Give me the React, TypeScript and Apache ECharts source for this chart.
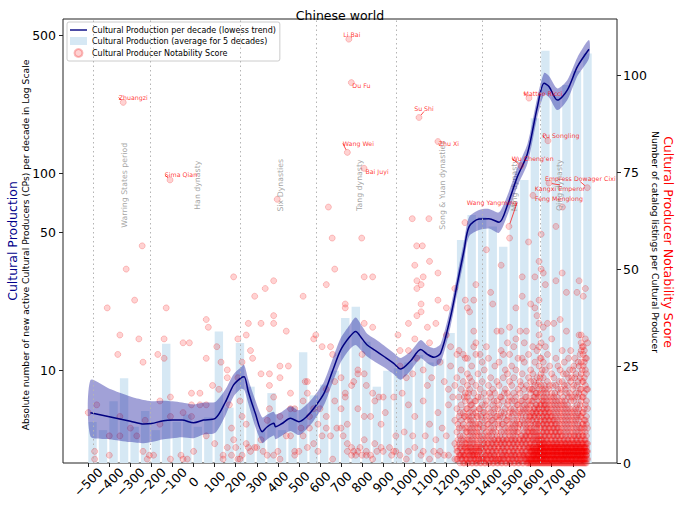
import * as echarts from 'echarts';
import { useEffect, useRef } from 'react';

const LINE_NAME = 'Cultural Production per decade (lowess trend)';
const BAR_NAME = 'Cultural Production (average for 5 decades)';
const SCATTER_NAME = 'Cultural Producer Notability Score';

// x ticks
const X_TICKS = [-500, -400, -300, -200, -100, 0, 100, 200, 300, 400, 500, 600, 700, 800, 900, 1000, 1100, 1200, 1300, 1400, 1500, 1600, 1700, 1800];
const LEFT_TICKS = [10, 50, 100, 500];
const RIGHT_TICKS = [0, 25, 50, 75, 100];

// bars: start year of each 50-year block (bar covers 40 years)
const BAR_STARTS = [-500, -450, -400, -350, -300, -250, -200, -150, -100, -50, 0, 50, 100, 150, 200, 250, 300, 350, 400, 450, 500, 550, 600, 650, 700, 750, 800, 850, 900, 950, 1000, 1050, 1100, 1150, 1200, 1250, 1300, 1350, 1400, 1450, 1500, 1550, 1600, 1650, 1700, 1750, 1800, 1850];
const BAR_VALUES = [5.5, 5.0, 7.0, 9.15, 5.2, 6.25, 5.0, 13.7, 5.5, 6.0, 5.2, 5.8, 15.8, 6.5, 13.8, 8.3, 5.0, 7.7, 5.0, 6.6, 12.4, 7.5, 8.5, 10.0, 18.5, 21.1, 14.0, 8.3, 10.0, 10.3, 11.0, 12.0, 11.0, 11.5, 15.5, 45.9, 61.5, 60, 53.7, 42.5, 72, 92.5, 190, 418, 245, 280, 330, 405];

// lowess trend and its band
const LINE_YEARS = [-490, -400, -300, -237, -200, -143, -100, -55, 0, 47, 103, 150, 190, 225, 240, 260, 293, 326, 350, 381, 389, 420, 460, 500, 540, 571, 619, 660, 698, 740, 769, 800, 824, 860, 904, 950, 983, 1030, 1078, 1110, 1141, 1173, 1220, 1252, 1284, 1308, 1355, 1402, 1450, 1490, 1537, 1585, 1632, 1664, 1687, 1727, 1774, 1822, 1877];
const LINE_VALUES = [6.12, 5.85, 5.55, 5.37, 5.4, 5.58, 5.62, 5.62, 5.45, 5.62, 5.74, 6.9, 8.47, 9.2, 9.33, 7.8, 6.08, 4.91, 5.2, 5.41, 5.2, 5.4, 5.74, 5.52, 5.9, 6.45, 7.67, 10.0, 12.7, 14.8, 15.8, 14.5, 13.5, 12.7, 11.8, 10.9, 10.2, 11.2, 12.8, 12.1, 11.7, 12.3, 18.8, 27.7, 40.8, 53.7, 58.6, 58.9, 56.5, 69, 96, 126, 217, 286, 275, 235, 264, 347, 425];
const BAND_LOW = [4.65, 4.5, 4.35, 4.29, 4.35, 4.5, 4.55, 4.6, 4.55, 4.75, 4.85, 5.9, 7.4, 8.1, 8.0, 6.8, 5.2, 4.3, 4.5, 4.7, 4.5, 4.7, 4.95, 4.72, 5.1, 5.6, 6.7, 8.7, 11.0, 12.8, 13.5, 12.5, 11.8, 11.1, 10.4, 9.6, 9.0, 10.0, 11.55, 10.9, 10.5, 11.0, 16.8, 24.8, 36.5, 48.0, 51.6, 52.5, 50.0, 61.5, 86, 112, 193, 250, 243, 209, 235, 311, 383];
const BAND_HIGH = [8.95, 8.1, 7.4, 7.1, 7.0, 7.05, 7.0, 6.9, 6.75, 6.9, 6.95, 8.0, 9.6, 10.4, 10.7, 9.0, 7.1, 5.8, 6.0, 6.2, 6.0, 6.2, 6.6, 6.3, 6.8, 7.4, 8.8, 11.5, 14.6, 17.0, 18.6, 16.8, 15.4, 14.5, 13.4, 12.3, 11.6, 12.5, 14.3, 13.4, 13.0, 13.7, 21.0, 30.8, 45.5, 60.0, 65.2, 66.0, 63.5, 77.5, 107, 141, 243, 322, 311, 269, 296, 386, 473];

// dynasties
const DYNASTY_STARTS = [-475, -206, 220, 581, 960, 1368, 1644];
const DYNASTY_NAMES = ['Warring States period', 'Han dynasty', 'Six Dynasties', 'Tang dynasty', 'Song & Yuan dynasties', 'Ming dynasty', 'Qing dynasty'];
const DYNASTY_LABEL_YEARS = [-330, 17, 413, 786, 1180, 1522, 1735];

// notable cultural producers
const NOTABLE_NAMES = ['Zhuangzi', 'Sima Qian', 'Li Bai', 'Du Fu', 'Wang Wei', 'Bai Juyi', 'Su Shi', 'Zhu Xi', 'Wang Yangming', "Wu Cheng'en", 'Matteo Ricci', 'Feng Menglong', 'Pu Songling', 'Kangxi Emperor', 'Empress Dowager Cixi'];
const NOTABLE_YEARS = [-334, -112, 737, 749, 730, 809, 1070, 1160, 1497, 1553, 1592, 1611, 1682, 1687, 1869];
const NOTABLE_SCORES = [93.0, 73.0, 109.3, 98.1, 80.1, 76.0, 89.1, 82.9, 61.0, 76.7, 94.1, 69.0, 83.1, 72.2, 71.0];
const NOTABLE_LABEL_SHIFT = [[10, -5], [11, -5], [3, -5], [10, 3], [11, -9], [13, 3], [5, -9], [11, 2], [-17, -24], [12, -7], [14, -5], [26, 3], [13, -5], [11, 5], [-7, -9]];

// other producers: [year, score]
const EARLY_POINTS = [
  [-500, 13], [-470, 3], [-470, 1], [-460, 15], [-410, 40], [-400, 7], [-400, 2],
  [-360, 28], [-350, 33], [-350, 12], [-350, 7], [-320, 50], [-300, 9], [-280, 42],
  [-270, 7], [-260, 32], [-240, 26], [-240, 3], [-230, 11], [-220, 1], [-210, 2],
  [-190, 2], [-170, 28], [-160, 10], [-160, 16], [-140, 32], [-140, 27], [-130, 40],
  [-110, 1], [-110, 12], [-110, 17], [-60, 2], [-50, 1], [-50, 31], [-50, 13],
  [-30, 1], [-20, 31], [-10, 18], [-10, 15], [-10, 12], [0, 3], [30, 18], [30, 15],
  [60, 37], [60, 27], [60, 15], [60, 7], [70, 35], [90, 20], [100, 5], [110, 30],
  [120, 19], [130, 26], [140, 2], [140, 1], [160, 24], [160, 22], [160, 4], [170, 15],
  [180, 9], [180, 2], [190, 48], [190, 6], [200, 4], [210, 32], [210, 22], [210, 1],
  [220, 1], [220, 16], [230, 26], [230, 12], [230, 2], [250, 33], [250, 5], [250, 10],
  [260, 36], [260, 4], [270, 29], [270, 3], [280, 27], [290, 43], [290, 4], [300, 4],
  [320, 36], [320, 23], [320, 6], [330, 3], [340, 45], [350, 2], [350, 11], [360, 23],
  [360, 20], [360, 14], [380, 47], [380, 38], [380, 36], [380, 17], [380, 2], [400, 3],
  [410, 25], [410, 22], [410, 12], [410, 1], [440, 7], [440, 34], [450, 25], [460, 18],
  [460, 7], [460, 14], [480, 14], [480, 3], [480, 2], [500, 3], [510, 9], [520, 43],
  [520, 16], [520, 7], [530, 21], [540, 21], [540, 18], [540, 4], [550, 9], [550, 12],
  [570, 32], [570, 14], [570, 5], [580, 33], [590, 3], [590, 10], [600, 14], [610, 30],
  [610, 7], [630, 46], [630, 19], [630, 9], [630, 12], [650, 30], [650, 7], [660, 28],
  [660, 1], [670, 50], [670, 21], [670, 16], [680, 9], [700, 22], [700, 9], [700, 14],
  [710, 7], [720, 41], [720, 40], [720, 18], [720, 17], [730, 5], [730, 3], [730, 10],
  [750, 20], [750, 4], [750, 2], [760, 21], [760, 3], [770, 2], [780, 24], [780, 23],
  [780, 3], [780, 14], [790, 4], [800, 28], [800, 2], [810, 48], [810, 36], [810, 23],
  [810, 6], [810, 12], [820, 3], [820, 20], [820, 2], [840, 2], [840, 12], [850, 48],
  [850, 35], [850, 18], [850, 1], [860, 16], [860, 5], [870, 3], [880, 17], [890, 4],
  [890, 10], [900, 17], [900, 3], [910, 13], [930, 4], [940, 2], [950, 17], [950, 3],
  [960, 7], [960, 3], [970, 33], [980, 29], [980, 25], [980, 2], [990, 18], [1000, 8],
  [1010, 22], [1010, 1], [1020, 36], [1020, 29], [1020, 15], [1020, 3], [1040, 23],
  [1040, 7], [1050, 51], [1050, 32], [1050, 12], [1050, 4], [1060, 47], [1060, 45],
  [1060, 38], [1060, 27], [1080, 46], [1080, 41], [1080, 39], [1080, 2], [1090, 48],
  [1090, 24], [1090, 16], [1090, 3], [1100, 7], [1110, 35], [1110, 20], [1120, 52],
  [1120, 31], [1120, 10], [1120, 1], [1130, 22], [1140, 3], [1150, 36], [1150, 6],
  [1160, 49], [1160, 42], [1160, 13], [1160, 2], [1170, 26], [1170, 3], [1180, 9],
  [1190, 21], [1190, 2], [1200, 40], [1200, 33], [1200, 7], [1210, 19], [1210, 15],
  [1210, 2], [1220, 30], [1220, 25], [1230, 17], [1240, 45], [1240, 20], [1240, 11],
  [1240, 5], [1240, 1],
];
const HIGH_POINTS = [
  [-244, 56], [397, 68], [640, 66], [658, 58], [798, 58], [1038, 63], [1117, 63],
  [1059, 56], [1086, 56], [1288, 62], [1500, 58], [1751, 66],
];
// later decades: [decade, scores]
const LATE_COLUMNS: [number, number[]][] = [
  [1250, [1, 3, 4, 8, 14, 22, 28]],
  [1260, [2, 5, 9, 12, 17, 29]],
  [1270, [1, 2, 4, 6, 11, 15, 19, 24]],
  [1280, [0, 2, 3, 7, 10, 13, 21, 28]],
  [1290, [1, 2, 4, 5, 9, 12, 16, 18, 27, 42]],
  [1300, [0, 1, 3, 4, 6, 8, 11, 14, 17, 20, 23, 27, 40]],
  [1310, [1, 2, 3, 5, 7, 10, 13, 16, 19, 22, 39]],
  [1320, [0, 2, 4, 6, 9, 12, 15, 21, 25]],
  [1330, [1, 2, 3, 5, 8, 11, 14, 18, 30, 34, 42]],
  [1340, [0, 1, 3, 4, 7, 10, 13, 16, 20, 28, 31, 46]],
  [1350, [1, 2, 4, 6, 9, 12, 17, 23]],
  [1360, [0, 2, 3, 5, 8, 10, 14, 19, 28]],
  [1370, [1, 2, 4, 7, 11, 15, 21, 26]],
  [1380, [0, 1, 3, 5, 6, 9, 13, 18, 24]],
  [1390, [1, 2, 4, 8, 12, 16, 30, 55]],
  [1400, [0, 2, 3, 5, 7, 10, 14, 20, 27]],
  [1410, [1, 2, 4, 6, 9, 13, 17, 22, 44]],
  [1420, [0, 1, 3, 5, 8, 11, 15, 19, 41]],
  [1430, [1, 2, 4, 6, 10, 14, 18, 25]],
  [1440, [0, 2, 3, 5, 7, 12, 16, 21, 34]],
  [1450, [1, 2, 4, 6, 9, 11, 15, 20, 26]],
  [1460, [0, 1, 3, 5, 8, 13, 17, 29, 34, 51]],
  [1470, [1, 2, 4, 6, 10, 12, 16, 22, 28]],
  [1480, [0, 2, 3, 5, 7, 9, 14, 19, 24]],
  [1490, [1, 2, 4, 6, 8, 11, 15, 18, 23, 31]],
  [1500, [0, 1, 3, 5, 7, 10, 13, 17, 21, 28, 35]],
  [1510, [1, 2, 4, 6, 9, 12, 16, 20, 25]],
  [1520, [0, 2, 3, 5, 8, 11, 14, 18, 22, 30]],
  [1530, [1, 2, 4, 6, 7, 10, 13, 17, 24, 32, 40]],
  [1540, [0, 1, 3, 5, 8, 9, 12, 15, 19, 27]],
  [1550, [1, 2, 4, 6, 10, 14, 18, 21, 34]],
  [1560, [0, 2, 3, 5, 7, 11, 13, 16, 23, 27, 43, 48]],
  [1570, [1, 2, 4, 6, 8, 10, 15, 19, 26, 31]],
  [1580, [0, 1, 2, 3, 5, 7, 9, 12, 14, 17, 20, 34]],
  [1590, [0, 1, 2, 4, 6, 8, 11, 13, 16, 22, 28, 57]],
  [1600, [0, 1, 2, 3, 4, 5, 7, 9, 10, 12, 15, 18, 21, 24, 41]],
  [1610, [0, 1, 2, 3, 4, 6, 8, 11, 13, 16, 19, 23, 30]],
  [1620, [0, 1, 2, 3, 5, 6, 8, 10, 12, 14, 17, 20, 26, 40, 48]],
  [1630, [0, 1, 2, 3, 4, 5, 7, 9, 11, 13, 15, 18, 22, 29, 38]],
  [1640, [0, 1, 2, 3, 4, 5, 6, 8, 10, 12, 14, 16, 19, 21, 25, 30, 33, 36, 42, 52]],
  [1650, [0, 1, 2, 3, 4, 5, 6, 7, 9, 11, 13, 15, 17, 20, 23, 27, 31, 50, 59]],
  [1660, [0, 1, 2, 3, 4, 5, 6, 8, 10, 12, 14, 16, 18, 22, 26, 35, 49]],
  [1670, [0, 1, 2, 3, 4, 5, 7, 9, 11, 13, 15, 19, 24, 30, 46]],
  [1680, [0, 1, 2, 3, 4, 5, 6, 8, 10, 12, 14, 17, 21, 28, 36]],
  [1690, [0, 1, 2, 3, 4, 5, 7, 9, 11, 13, 16, 20, 25]],
  [1700, [0, 1, 2, 3, 4, 5, 6, 8, 10, 12, 15, 18, 23, 32]],
  [1710, [0, 1, 2, 3, 4, 5, 7, 9, 11, 14, 17, 22, 36]],
  [1720, [0, 1, 2, 3, 4, 5, 6, 8, 10, 13, 16, 20, 27, 47, 61]],
  [1730, [0, 1, 2, 3, 4, 5, 7, 9, 12, 15, 19, 25]],
  [1740, [0, 1, 2, 3, 4, 5, 6, 8, 11, 14, 18, 24, 37]],
  [1750, [0, 1, 2, 3, 4, 5, 7, 10, 13, 16, 21, 29, 49]],
  [1760, [0, 1, 2, 3, 4, 5, 6, 9, 12, 15, 20, 26]],
  [1770, [0, 1, 2, 3, 4, 5, 8, 11, 14, 18, 23, 34, 44]],
  [1780, [0, 1, 2, 3, 4, 5, 6, 7, 10, 13, 17, 22, 27]],
  [1790, [0, 1, 2, 3, 4, 5, 7, 9, 12, 16, 21, 29]],
  [1800, [0, 1, 2, 3, 4, 5, 6, 8, 11, 14, 19, 24]],
  [1810, [0, 1, 2, 3, 4, 5, 7, 10, 13, 17, 22, 27]],
  [1820, [0, 1, 2, 3, 4, 5, 6, 9, 12, 15, 20, 44]],
  [1830, [0, 1, 2, 3, 4, 5, 7, 8, 11, 14, 18, 25, 33, 47]],
  [1840, [0, 1, 2, 3, 4, 5, 6, 9, 12, 16, 19, 23, 26, 29, 31, 33]],
  [1850, [0, 1, 2, 3, 4, 5, 7, 10, 13, 17, 21, 25, 28, 30, 43]],
  [1860, [0, 1, 2, 3, 4, 5, 6, 8, 11, 15, 20, 24, 27, 32, 45]],
  [1870, [1, 3, 5, 9, 14, 19, 31]],
];
// mid-decade producers (1255 = born in the second half of the 1250s, etc.)
const MID_DECADE_COLUMNS: [number, number[]][] = [
  [1255, [1, 3, 6, 10]],
  [1265, [0, 2, 4, 7, 13]],
  [1275, [1, 3, 5, 9]],
  [1285, [0, 2, 4, 6, 12, 17]],
  [1295, [1, 3, 5, 8, 14]],
  [1305, [0, 2, 4, 6, 9, 12, 18]],
  [1315, [1, 3, 4, 8, 11, 15]],
  [1325, [0, 2, 3, 5, 7, 10, 13]],
  [1335, [1, 2, 4, 6, 9, 16]],
  [1345, [0, 2, 3, 5, 8, 12]],
  [1355, [1, 3, 4, 7, 10, 14]],
  [1365, [0, 1, 4, 6, 12, 17]],
  [1375, [1, 3, 5, 9, 13]],
  [1385, [0, 2, 4, 7, 11, 15]],
  [1395, [1, 3, 5, 6, 10]],
  [1405, [0, 2, 4, 8, 12, 18]],
  [1415, [1, 3, 5, 7, 11]],
  [1425, [0, 2, 4, 6, 9, 13, 16]],
  [1435, [1, 3, 5, 8, 12]],
  [1445, [0, 1, 4, 6, 10, 14]],
  [1455, [1, 3, 5, 7, 12, 17]],
  [1465, [0, 2, 4, 6, 10]],
  [1475, [1, 3, 5, 8, 13, 18]],
  [1485, [0, 2, 4, 6, 11]],
  [1495, [1, 3, 5, 9, 12, 16]],
  [1505, [0, 2, 4, 6, 8, 14]],
  [1515, [1, 3, 5, 7, 10, 13]],
  [1525, [0, 2, 4, 6, 9, 16]],
  [1535, [1, 3, 5, 8, 11, 15]],
  [1545, [0, 2, 4, 6, 10, 13]],
  [1555, [1, 3, 5, 7, 12, 16, 20]],
  [1565, [0, 2, 4, 6, 9, 14]],
  [1575, [1, 3, 5, 7, 11, 13, 17]],
  [1585, [0, 1, 2, 4, 6, 8, 10, 15]],
  [1595, [0, 1, 3, 4, 5, 7, 9, 12, 14, 19]],
  [1605, [0, 1, 1, 2, 3, 3, 4, 6, 8, 11, 13, 16, 19]],
  [1615, [0, 1, 2, 2, 3, 4, 5, 7, 9, 12, 14, 17, 21]],
  [1625, [0, 1, 1, 2, 3, 4, 4, 6, 8, 10, 13, 15, 18]],
  [1635, [0, 1, 2, 2, 3, 3, 4, 6, 7, 10, 12, 14, 17, 20]],
  [1645, [0, 1, 1, 2, 3, 3, 4, 4, 5, 7, 9, 11, 13, 15, 18, 22, 27]],
  [1655, [0, 1, 1, 2, 2, 3, 4, 4, 5, 6, 8, 10, 12, 14, 16, 19, 24]],
  [1665, [0, 1, 2, 2, 3, 3, 4, 5, 7, 9, 11, 13, 15, 17, 20]],
  [1675, [0, 1, 1, 2, 3, 4, 4, 6, 8, 10, 12, 14, 16, 18]],
  [1685, [0, 1, 2, 2, 3, 3, 4, 5, 7, 9, 11, 13, 15, 19]],
  [1695, [0, 1, 1, 2, 3, 4, 4, 6, 8, 10, 12, 14, 17]],
  [1705, [0, 1, 2, 2, 3, 3, 4, 5, 7, 9, 11, 13, 16, 20]],
  [1715, [0, 1, 1, 2, 3, 4, 4, 6, 8, 10, 12, 15, 18]],
  [1725, [0, 1, 2, 2, 3, 3, 4, 5, 7, 9, 11, 14, 17]],
  [1735, [0, 1, 1, 2, 3, 4, 4, 6, 8, 10, 13, 16, 21]],
  [1745, [0, 1, 2, 2, 3, 3, 4, 5, 7, 9, 12, 15, 19]],
  [1755, [0, 1, 1, 2, 2, 3, 4, 4, 6, 8, 11, 14, 17, 23]],
  [1765, [0, 1, 2, 2, 3, 3, 4, 5, 7, 10, 13, 16, 19]],
  [1775, [0, 1, 1, 2, 3, 3, 4, 4, 6, 9, 12, 15, 20]],
  [1785, [0, 1, 2, 2, 3, 3, 4, 5, 8, 11, 14, 18, 24]],
  [1795, [0, 1, 1, 2, 2, 3, 4, 4, 6, 10, 13, 17, 22]],
  [1805, [0, 1, 2, 2, 3, 3, 4, 5, 7, 9, 12, 16, 20, 25]],
  [1815, [0, 1, 1, 2, 3, 3, 4, 4, 6, 8, 11, 14, 18, 23]],
  [1825, [0, 1, 2, 2, 3, 3, 4, 5, 7, 10, 13, 17, 21, 26]],
  [1835, [0, 1, 1, 2, 2, 3, 4, 4, 6, 9, 12, 15, 19, 22, 28]],
  [1845, [0, 1, 2, 2, 3, 3, 4, 5, 7, 8, 10, 13, 17, 21, 24, 30]],
  [1855, [0, 1, 1, 2, 3, 3, 4, 4, 6, 9, 11, 14, 18, 22, 26, 29]],
  [1865, [0, 1, 2, 2, 3, 3, 4, 5, 7, 10, 12, 16, 19, 23, 27]],
];

const FONT = 'DejaVu Sans';
const log = (v: number) => Math.log10(v);

export default function App() {
  const container = useRef<HTMLDivElement | null>(null);

  useEffect(() => {
    if (!container.current) return;
    const chart = echarts.init(container.current, undefined, { renderer: 'svg' });

    const pointStyle = {
      color: 'rgba(255,0,0,0.22)',
      borderColor: 'rgba(235,0,0,0.32)',
      borderWidth: 0.8,
    };
    const columnsToPoints = (cols: [number, number[]][]) =>
      cols.flatMap(([year, scores]) => scores.map((s) => [year, s]));
    const scatterData = [
      ...EARLY_POINTS,
      ...HIGH_POINTS,
      ...columnsToPoints(LATE_COLUMNS),
      ...columnsToPoints(MID_DECADE_COLUMNS),
    ];
    const smooth = 0.3;
    const centered = { align: 'center', verticalAlign: 'middle', textAlign: 'center', textVerticalAlign: 'middle' };

    chart.setOption({
      animation: false,
      textStyle: { fontFamily: FONT },
      title: {
        text: 'Chinese world',
        left: 'center',
        top: 4,
        textStyle: { fontSize: 12.5, fontWeight: 'normal', color: '#000', fontFamily: FONT },
      },
      legend: {
        orient: 'vertical',
        left: 67,
        top: 22,
        padding: [4, 4, 3, 3],
        itemGap: 3,
        itemWidth: 17,
        itemHeight: 8,
        backgroundColor: 'rgba(255,255,255,0.85)',
        borderColor: '#cccccc',
        borderWidth: 1,
        borderRadius: 2,
        textStyle: { fontSize: 8, color: '#000', fontFamily: FONT },
        data: [
          { name: LINE_NAME, icon: 'path://M0,0H17V1.4H0Z' },
          { name: BAR_NAME, icon: 'rect' },
          { name: SCATTER_NAME, icon: 'circle' },
        ],
      },
      grid: { left: 63, right: 63, top: 19, bottom: 45, show: true, borderColor: '#222', borderWidth: 1 },
      xAxis: {
        type: 'value',
        min: -620,
        max: 2010,
        axisLine: { show: false, onZero: false },
        splitLine: { show: false },
        axisTick: { show: true, length: 4, lineStyle: { color: '#222' }, customValues: X_TICKS },
        axisLabel: {
          customValues: X_TICKS,
          rotate: 45,
          align: 'center',
          verticalAlign: 'middle',
          margin: 19,
          fontSize: 12.5,
          color: '#000',
          fontFamily: FONT,
          formatter: (v: number) => (v < 0 ? '\u2212' + Math.abs(v) : String(v)),
        },
      },
      yAxis: [
        {
          type: 'value',
          min: 0.5324,
          max: 2.7816,
          axisLine: { show: false, onZero: false },
          splitLine: { show: false },
          axisTick: { show: true, length: 4, lineStyle: { color: '#222' }, customValues: LEFT_TICKS.map(log) },
          axisLabel: {
            customValues: LEFT_TICKS.map(log),
            margin: 7,
            fontSize: 12.5,
            color: '#000',
            fontFamily: FONT,
            formatter: (v: number) => String(Math.round(Math.pow(10, v))),
          },
        },
        {
          type: 'value',
          position: 'right',
          min: 0,
          max: 114.5,
          axisLine: { show: false, onZero: false },
          splitLine: { show: false },
          axisTick: { show: true, length: 4, lineStyle: { color: '#222' }, customValues: RIGHT_TICKS },
          axisLabel: { customValues: RIGHT_TICKS, margin: 6, fontSize: 12.5, color: '#000', fontFamily: FONT },
        },
      ],
      graphic: [
        {
          type: 'text', x: 12, y: 241, rotation: Math.PI / 2,
          style: { text: 'Cultural Production', fill: '#00008b', font: `12.5px "${FONT}"`, ...centered },
        },
        {
          type: 'text', x: 25, y: 245, rotation: Math.PI / 2,
          style: { text: 'Absolute number of new active Cultural Producers (CPs) per decade in Log Scale', fill: '#000', font: `9.2px "${FONT}"`, ...centered },
        },
        {
          type: 'text', x: 668, y: 242, rotation: -Math.PI / 2,
          style: { text: 'Cultural Producer Notability Score', fill: '#ff0000', font: `12.5px "${FONT}"`, ...centered },
        },
        {
          type: 'text', x: 655, y: 242, rotation: -Math.PI / 2,
          style: { text: 'Number of catalog listings per Cultural Producer', fill: '#000', font: `9.2px "${FONT}"`, ...centered },
        },
      ],
      series: [
        {
          type: 'bar',
          name: BAR_NAME,
          yAxisIndex: 0,
          barWidth: 8.4,
          itemStyle: { color: '#d6e8f4' },
          data: BAR_STARTS.map((s, i) => [s + 20, log(BAR_VALUES[i])]),
          z: 1,
        },
        {
          type: 'scatter',
          name: SCATTER_NAME,
          yAxisIndex: 1,
          symbolSize: 6,
          itemStyle: pointStyle,
          data: scatterData,
          z: 2,
        },
        {
          type: 'scatter',
          name: 'dynasties',
          yAxisIndex: 0,
          symbolSize: 1,
          silent: true,
          itemStyle: { color: 'rgba(0,0,0,0)' },
          data: DYNASTY_NAMES.map((n, i) => ({ name: n, value: [DYNASTY_LABEL_YEARS[i], log(87)] })),
          label: {
            show: true,
            formatter: '{b}',
            position: 'inside',
            rotate: 90,
            color: '#8c8c8c',
            fontSize: 7.8,
            fontFamily: FONT,
          },
          markLine: {
            silent: true,
            symbol: 'none',
            label: { show: false },
            lineStyle: { color: '#b4b4b4', type: [1.5, 3], width: 1 },
            data: DYNASTY_STARTS.map((x) => ({ xAxis: x })),
          },
          z: 2,
        },
        {
          // confidence band of the lowess trend
          type: 'custom',
          name: 'band',
          yAxisIndex: 0,
          silent: true,
          data: LINE_YEARS.map((y, i) => [y, log(BAND_LOW[i]), log(BAND_HIGH[i])]),
          encode: { x: 0, y: [1, 2] },
          renderItem: (params: any, api: any) => {
            if (params.dataIndex !== 0) return null;
            const upper = LINE_YEARS.map((y, i) => api.coord([y, log(BAND_HIGH[i])]));
            const lower = LINE_YEARS.map((y, i) => api.coord([y, log(BAND_LOW[i])])).reverse();
            return {
              type: 'polygon',
              shape: { points: upper.concat(lower), smooth: 0.25 },
              style: { fill: 'rgba(30,30,160,0.42)', stroke: 'none' },
            };
          },
          z: 3,
        },
        {
          type: 'line',
          name: LINE_NAME,
          yAxisIndex: 0,
          symbol: 'none',
          smooth,
          lineStyle: { color: '#000080', width: 1.5 },
          itemStyle: { color: '#000080' },
          data: LINE_YEARS.map((y, i) => [y, log(LINE_VALUES[i])]),
          z: 4,
        },
        {
          type: 'scatter',
          name: 'notables',
          yAxisIndex: 1,
          symbolSize: 6,
          itemStyle: pointStyle,
          data: NOTABLE_NAMES.map((n, i) => ({ name: n, value: [NOTABLE_YEARS[i], NOTABLE_SCORES[i]] })),
          label: {
            show: true,
            formatter: '{b}',
            position: 'inside',
            color: '#ff0000',
            fontSize: 6.3,
            fontFamily: FONT,
          },
          labelLayout: (p: { dataIndex: number }) => ({
            dx: NOTABLE_LABEL_SHIFT[p.dataIndex][0],
            dy: NOTABLE_LABEL_SHIFT[p.dataIndex][1],
          }),
          labelLine: { show: true, lineStyle: { color: '#ff0000', width: 0.7 } },
          z: 5,
        },
      ],
    });

    return () => chart.dispose();
  }, []);

  return (
    <div
      ref={container}
      style={{ position: 'absolute', left: 0, top: 0, width: 680, height: 508 }}
    />
  );
}
